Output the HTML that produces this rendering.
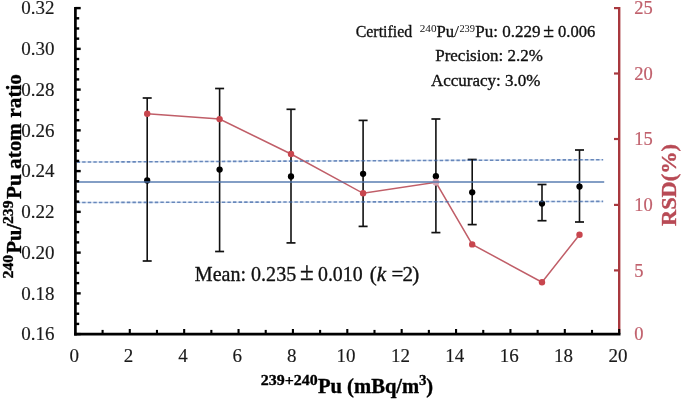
<!DOCTYPE html><html><head><meta charset="utf-8"><style>html,body{margin:0;padding:0;background:#fff;}svg{display:block}</style></head><body>
<svg width="685" height="400" viewBox="0 0 685 400" style="font-family:'Liberation Serif',serif;will-change:transform">
<rect width="685" height="400" fill="#fff"/>
<line x1="77" y1="162.1" x2="603" y2="159.7" stroke="#d6e2f3" stroke-width="1.5"/>
<line x1="77" y1="202.5" x2="603" y2="201.4" stroke="#d6e2f3" stroke-width="1.5"/>
<line x1="147.2" y1="98.0" x2="147.2" y2="261.0" stroke="#111" stroke-width="1.6"/>
<line x1="142.7" y1="98.0" x2="151.7" y2="98.0" stroke="#111" stroke-width="1.7"/>
<line x1="142.7" y1="261.0" x2="151.7" y2="261.0" stroke="#111" stroke-width="1.7"/>
<line x1="219.6" y1="88.5" x2="219.6" y2="251.5" stroke="#111" stroke-width="1.6"/>
<line x1="215.1" y1="88.5" x2="224.1" y2="88.5" stroke="#111" stroke-width="1.7"/>
<line x1="215.1" y1="251.5" x2="224.1" y2="251.5" stroke="#111" stroke-width="1.7"/>
<line x1="291.0" y1="109.3" x2="291.0" y2="242.9" stroke="#111" stroke-width="1.6"/>
<line x1="286.5" y1="109.3" x2="295.5" y2="109.3" stroke="#111" stroke-width="1.7"/>
<line x1="286.5" y1="242.9" x2="295.5" y2="242.9" stroke="#111" stroke-width="1.7"/>
<line x1="363.1" y1="120.4" x2="363.1" y2="226.4" stroke="#111" stroke-width="1.6"/>
<line x1="358.6" y1="120.4" x2="367.6" y2="120.4" stroke="#111" stroke-width="1.7"/>
<line x1="358.6" y1="226.4" x2="367.6" y2="226.4" stroke="#111" stroke-width="1.7"/>
<line x1="435.9" y1="119.0" x2="435.9" y2="232.6" stroke="#111" stroke-width="1.6"/>
<line x1="431.4" y1="119.0" x2="440.4" y2="119.0" stroke="#111" stroke-width="1.7"/>
<line x1="431.4" y1="232.6" x2="440.4" y2="232.6" stroke="#111" stroke-width="1.7"/>
<line x1="472.2" y1="159.5" x2="472.2" y2="224.6" stroke="#111" stroke-width="1.6"/>
<line x1="467.7" y1="159.5" x2="476.7" y2="159.5" stroke="#111" stroke-width="1.7"/>
<line x1="467.7" y1="224.6" x2="476.7" y2="224.6" stroke="#111" stroke-width="1.7"/>
<line x1="542.0" y1="184.5" x2="542.0" y2="220.7" stroke="#111" stroke-width="1.6"/>
<line x1="537.5" y1="184.5" x2="546.5" y2="184.5" stroke="#111" stroke-width="1.7"/>
<line x1="537.5" y1="220.7" x2="546.5" y2="220.7" stroke="#111" stroke-width="1.7"/>
<line x1="579.5" y1="150.0" x2="579.5" y2="222.0" stroke="#111" stroke-width="1.6"/>
<line x1="575.0" y1="150.0" x2="584.0" y2="150.0" stroke="#111" stroke-width="1.7"/>
<line x1="575.0" y1="222.0" x2="584.0" y2="222.0" stroke="#111" stroke-width="1.7"/>
<polyline points="147.2,113.7 219.6,119.1 291.0,154.0 363.1,193.3 435.9,182.25 472.2,244.4 542.0,282.2 579.5,234.7" fill="none" stroke="#c05e68" stroke-width="1.5"/>
<circle cx="147.2" cy="113.7" r="3.2" fill="#c8464e"/>
<circle cx="219.6" cy="119.1" r="3.2" fill="#c8464e"/>
<circle cx="291.0" cy="154.0" r="3.2" fill="#c8464e"/>
<circle cx="363.1" cy="193.3" r="3.2" fill="#c8464e"/>
<circle cx="472.2" cy="244.4" r="3.2" fill="#c8464e"/>
<circle cx="542.0" cy="282.2" r="3.2" fill="#c8464e"/>
<circle cx="579.5" cy="234.7" r="3.2" fill="#c8464e"/>
<circle cx="147.2" cy="180.4" r="3.15" fill="#000"/>
<circle cx="219.6" cy="169.55" r="3.15" fill="#000"/>
<circle cx="291.0" cy="176.5" r="3.15" fill="#000"/>
<circle cx="363.1" cy="173.8" r="3.15" fill="#000"/>
<circle cx="435.9" cy="176.20000000000002" r="3.15" fill="#000"/>
<circle cx="472.2" cy="192.3" r="3.15" fill="#000"/>
<circle cx="542.0" cy="203.60000000000002" r="3.15" fill="#000"/>
<circle cx="579.5" cy="186.55" r="3.15" fill="#000"/>
<circle cx="435.9" cy="182.25" r="3.4" fill="#d6a4b0"/>
<line x1="77" y1="181.9" x2="604.2" y2="181.9" stroke="rgb(72,112,170)" stroke-opacity="0.68" stroke-width="2"/>
<line x1="76.6" y1="162.1" x2="603.2" y2="159.7" stroke="rgb(60,100,165)" stroke-opacity="0.72" stroke-width="1.6" stroke-dasharray="3.4,2.186"/>
<line x1="76.6" y1="202.5" x2="603.2" y2="201.4" stroke="rgb(60,100,165)" stroke-opacity="0.72" stroke-width="1.6" stroke-dasharray="3.4,2.186"/>
<line x1="75.4" y1="6.8999999999999995" x2="75.4" y2="335.5" stroke="#000" stroke-width="2.7"/>
<line x1="75.4" y1="334.10" x2="80.7" y2="334.10" stroke="#000" stroke-width="2.4"/>
<line x1="75.4" y1="323.91" x2="79.2" y2="323.91" stroke="#000" stroke-width="2.4"/>
<line x1="75.4" y1="313.73" x2="79.2" y2="313.73" stroke="#000" stroke-width="2.4"/>
<line x1="75.4" y1="303.54" x2="79.2" y2="303.54" stroke="#000" stroke-width="2.4"/>
<line x1="75.4" y1="293.35" x2="80.7" y2="293.35" stroke="#000" stroke-width="2.4"/>
<line x1="75.4" y1="283.16" x2="79.2" y2="283.16" stroke="#000" stroke-width="2.4"/>
<line x1="75.4" y1="272.98" x2="79.2" y2="272.98" stroke="#000" stroke-width="2.4"/>
<line x1="75.4" y1="262.79" x2="79.2" y2="262.79" stroke="#000" stroke-width="2.4"/>
<line x1="75.4" y1="252.60" x2="80.7" y2="252.60" stroke="#000" stroke-width="2.4"/>
<line x1="75.4" y1="242.41" x2="79.2" y2="242.41" stroke="#000" stroke-width="2.4"/>
<line x1="75.4" y1="232.22" x2="79.2" y2="232.22" stroke="#000" stroke-width="2.4"/>
<line x1="75.4" y1="222.04" x2="79.2" y2="222.04" stroke="#000" stroke-width="2.4"/>
<line x1="75.4" y1="211.85" x2="80.7" y2="211.85" stroke="#000" stroke-width="2.4"/>
<line x1="75.4" y1="201.66" x2="79.2" y2="201.66" stroke="#000" stroke-width="2.4"/>
<line x1="75.4" y1="191.47" x2="79.2" y2="191.47" stroke="#000" stroke-width="2.4"/>
<line x1="75.4" y1="181.29" x2="79.2" y2="181.29" stroke="#000" stroke-width="2.4"/>
<line x1="75.4" y1="171.10" x2="80.7" y2="171.10" stroke="#000" stroke-width="2.4"/>
<line x1="75.4" y1="160.91" x2="79.2" y2="160.91" stroke="#000" stroke-width="2.4"/>
<line x1="75.4" y1="150.73" x2="79.2" y2="150.73" stroke="#000" stroke-width="2.4"/>
<line x1="75.4" y1="140.54" x2="79.2" y2="140.54" stroke="#000" stroke-width="2.4"/>
<line x1="75.4" y1="130.35" x2="80.7" y2="130.35" stroke="#000" stroke-width="2.4"/>
<line x1="75.4" y1="120.16" x2="79.2" y2="120.16" stroke="#000" stroke-width="2.4"/>
<line x1="75.4" y1="109.97" x2="79.2" y2="109.97" stroke="#000" stroke-width="2.4"/>
<line x1="75.4" y1="99.79" x2="79.2" y2="99.79" stroke="#000" stroke-width="2.4"/>
<line x1="75.4" y1="89.60" x2="80.7" y2="89.60" stroke="#000" stroke-width="2.4"/>
<line x1="75.4" y1="79.41" x2="79.2" y2="79.41" stroke="#000" stroke-width="2.4"/>
<line x1="75.4" y1="69.22" x2="79.2" y2="69.22" stroke="#000" stroke-width="2.4"/>
<line x1="75.4" y1="59.04" x2="79.2" y2="59.04" stroke="#000" stroke-width="2.4"/>
<line x1="75.4" y1="48.85" x2="80.7" y2="48.85" stroke="#000" stroke-width="2.4"/>
<line x1="75.4" y1="38.66" x2="79.2" y2="38.66" stroke="#000" stroke-width="2.4"/>
<line x1="75.4" y1="28.48" x2="79.2" y2="28.48" stroke="#000" stroke-width="2.4"/>
<line x1="75.4" y1="18.29" x2="79.2" y2="18.29" stroke="#000" stroke-width="2.4"/>
<line x1="75.4" y1="8.10" x2="80.7" y2="8.10" stroke="#000" stroke-width="2.4"/>
<line x1="619.2" y1="7.0" x2="619.2" y2="332.8" stroke="#a8383e" stroke-width="2.4"/>
<line x1="619.2" y1="270.40" x2="614.0" y2="270.40" stroke="#a8383e" stroke-width="2.2"/>
<line x1="619.2" y1="204.90" x2="614.0" y2="204.90" stroke="#a8383e" stroke-width="2.2"/>
<line x1="619.2" y1="139.00" x2="614.0" y2="139.00" stroke="#a8383e" stroke-width="2.2"/>
<line x1="619.2" y1="73.50" x2="614.0" y2="73.50" stroke="#a8383e" stroke-width="2.2"/>
<line x1="619.2" y1="8.10" x2="614.0" y2="8.10" stroke="#a8383e" stroke-width="2.2"/>
<line x1="74.05000000000001" y1="334.1" x2="620.5" y2="334.1" stroke="#000" stroke-width="2.8"/>
<line x1="102.59" y1="334.1" x2="102.59" y2="329.90000000000003" stroke="#000" stroke-width="2.1"/>
<line x1="129.78" y1="334.1" x2="129.78" y2="329.0" stroke="#000" stroke-width="2.1"/>
<line x1="156.97" y1="334.1" x2="156.97" y2="329.90000000000003" stroke="#000" stroke-width="2.1"/>
<line x1="184.16" y1="334.1" x2="184.16" y2="329.0" stroke="#000" stroke-width="2.1"/>
<line x1="211.35" y1="334.1" x2="211.35" y2="329.90000000000003" stroke="#000" stroke-width="2.1"/>
<line x1="238.54" y1="334.1" x2="238.54" y2="329.0" stroke="#000" stroke-width="2.1"/>
<line x1="265.73" y1="334.1" x2="265.73" y2="329.90000000000003" stroke="#000" stroke-width="2.1"/>
<line x1="292.92" y1="334.1" x2="292.92" y2="329.0" stroke="#000" stroke-width="2.1"/>
<line x1="320.11" y1="334.1" x2="320.11" y2="329.90000000000003" stroke="#000" stroke-width="2.1"/>
<line x1="347.30" y1="334.1" x2="347.30" y2="329.0" stroke="#000" stroke-width="2.1"/>
<line x1="374.49" y1="334.1" x2="374.49" y2="329.90000000000003" stroke="#000" stroke-width="2.1"/>
<line x1="401.68" y1="334.1" x2="401.68" y2="329.0" stroke="#000" stroke-width="2.1"/>
<line x1="428.87" y1="334.1" x2="428.87" y2="329.90000000000003" stroke="#000" stroke-width="2.1"/>
<line x1="456.06" y1="334.1" x2="456.06" y2="329.0" stroke="#000" stroke-width="2.1"/>
<line x1="483.25" y1="334.1" x2="483.25" y2="329.90000000000003" stroke="#000" stroke-width="2.1"/>
<line x1="510.44" y1="334.1" x2="510.44" y2="329.0" stroke="#000" stroke-width="2.1"/>
<line x1="537.63" y1="334.1" x2="537.63" y2="329.90000000000003" stroke="#000" stroke-width="2.1"/>
<line x1="564.82" y1="334.1" x2="564.82" y2="329.0" stroke="#000" stroke-width="2.1"/>
<line x1="592.01" y1="334.1" x2="592.01" y2="329.90000000000003" stroke="#000" stroke-width="2.1"/>
<line x1="619.20" y1="334.1" x2="619.20" y2="329.0" stroke="#000" stroke-width="2.1"/>
<text x="54.4" y="340.30" font-size="19" text-anchor="end" fill="#1a1a1a" stroke="#1a1a1a" stroke-width="0.15">0.16</text>
<text x="54.4" y="299.55" font-size="19" text-anchor="end" fill="#1a1a1a" stroke="#1a1a1a" stroke-width="0.15">0.18</text>
<text x="54.4" y="258.80" font-size="19" text-anchor="end" fill="#1a1a1a" stroke="#1a1a1a" stroke-width="0.15">0.20</text>
<text x="54.4" y="218.05" font-size="19" text-anchor="end" fill="#1a1a1a" stroke="#1a1a1a" stroke-width="0.15">0.22</text>
<text x="54.4" y="177.30" font-size="19" text-anchor="end" fill="#1a1a1a" stroke="#1a1a1a" stroke-width="0.15">0.24</text>
<text x="54.4" y="136.55" font-size="19" text-anchor="end" fill="#1a1a1a" stroke="#1a1a1a" stroke-width="0.15">0.26</text>
<text x="54.4" y="95.80" font-size="19" text-anchor="end" fill="#1a1a1a" stroke="#1a1a1a" stroke-width="0.15">0.28</text>
<text x="54.4" y="55.05" font-size="19" text-anchor="end" fill="#1a1a1a" stroke="#1a1a1a" stroke-width="0.15">0.30</text>
<text x="54.4" y="14.30" font-size="19" text-anchor="end" fill="#1a1a1a" stroke="#1a1a1a" stroke-width="0.15">0.32</text>
<text x="74.20" y="362.4" font-size="19" text-anchor="middle" fill="#1a1a1a" stroke="#1a1a1a" stroke-width="0.15">0</text>
<text x="128.58" y="362.4" font-size="19" text-anchor="middle" fill="#1a1a1a" stroke="#1a1a1a" stroke-width="0.15">2</text>
<text x="182.96" y="362.4" font-size="19" text-anchor="middle" fill="#1a1a1a" stroke="#1a1a1a" stroke-width="0.15">4</text>
<text x="237.34" y="362.4" font-size="19" text-anchor="middle" fill="#1a1a1a" stroke="#1a1a1a" stroke-width="0.15">6</text>
<text x="291.72" y="362.4" font-size="19" text-anchor="middle" fill="#1a1a1a" stroke="#1a1a1a" stroke-width="0.15">8</text>
<text x="346.10" y="362.4" font-size="19" text-anchor="middle" fill="#1a1a1a" stroke="#1a1a1a" stroke-width="0.15">10</text>
<text x="400.48" y="362.4" font-size="19" text-anchor="middle" fill="#1a1a1a" stroke="#1a1a1a" stroke-width="0.15">12</text>
<text x="454.86" y="362.4" font-size="19" text-anchor="middle" fill="#1a1a1a" stroke="#1a1a1a" stroke-width="0.15">14</text>
<text x="509.24" y="362.4" font-size="19" text-anchor="middle" fill="#1a1a1a" stroke="#1a1a1a" stroke-width="0.15">16</text>
<text x="563.62" y="362.4" font-size="19" text-anchor="middle" fill="#1a1a1a" stroke="#1a1a1a" stroke-width="0.15">18</text>
<text x="618.00" y="362.4" font-size="19" text-anchor="middle" fill="#1a1a1a" stroke="#1a1a1a" stroke-width="0.15">20</text>
<text x="634.2" y="340.20" font-size="18.5" fill="#c0606c" stroke="#c0606c" stroke-width="0.2">0</text>
<text x="634.2" y="276.50" font-size="18.5" fill="#c0606c" stroke="#c0606c" stroke-width="0.2">5</text>
<text x="634.2" y="211.00" font-size="18.5" fill="#c0606c" stroke="#c0606c" stroke-width="0.2">10</text>
<text x="634.2" y="145.10" font-size="18.5" fill="#c0606c" stroke="#c0606c" stroke-width="0.2">15</text>
<text x="634.2" y="79.60" font-size="18.5" fill="#c0606c" stroke="#c0606c" stroke-width="0.2">20</text>
<text x="634.2" y="14.20" font-size="18.5" fill="#c0606c" stroke="#c0606c" stroke-width="0.2">25</text>
<text x="260.7" y="385.3" font-size="15" fill="#000" stroke="#000" stroke-width="0.35" font-weight="bold" textLength="57" lengthAdjust="spacingAndGlyphs">239+240</text>
<text x="317.9" y="392.6" font-size="20.5" fill="#000" stroke="#000" stroke-width="0.35" font-weight="bold" textLength="101.4" lengthAdjust="spacingAndGlyphs">Pu (mBq/m</text>
<text x="418.9" y="385.3" font-size="15" fill="#000" stroke="#000" stroke-width="0.35" font-weight="bold">3</text>
<text x="426.3" y="392.6" font-size="20.5" fill="#000" stroke="#000" stroke-width="0.35" font-weight="bold">)</text>
<text transform="translate(13.3,278.4) rotate(-90)" x="0" y="0" font-size="15" fill="#000" stroke="#000" stroke-width="0.35" font-weight="bold" textLength="23.6" lengthAdjust="spacingAndGlyphs">240</text>
<text transform="translate(20.6,253.5) rotate(-90)" x="0" y="0" font-size="20.5" fill="#000" stroke="#000" stroke-width="0.35" font-weight="bold">Pu/</text>
<text transform="translate(13.3,224.1) rotate(-90)" x="0" y="0" font-size="15" fill="#000" stroke="#000" stroke-width="0.35" font-weight="bold" textLength="23.6" lengthAdjust="spacingAndGlyphs">239</text>
<text transform="translate(20.6,199.1) rotate(-90)" x="0" y="0" font-size="20.5" fill="#000" stroke="#000" stroke-width="0.35" font-weight="bold" textLength="125.1" lengthAdjust="spacingAndGlyphs">Pu atom ratio</text>
<text transform="translate(676.4,225.9) rotate(-90)" x="0" y="0" font-size="21.5" fill="#b84a55" stroke="#b84a55" stroke-width="0.35" font-weight="bold" textLength="81.8" lengthAdjust="spacingAndGlyphs">RSD(%)</text>
<text x="355.7" y="36.6" font-size="17.5" fill="#111" stroke="#111" stroke-width="0.35" textLength="56.5" lengthAdjust="spacingAndGlyphs">Certified</text>
<text x="419.7" y="31.5" font-size="10.8" fill="#111" textLength="16.8" lengthAdjust="spacingAndGlyphs">240</text>
<text x="436.6" y="36.6" font-size="17.5" fill="#111" stroke="#111" stroke-width="0.35" textLength="17.6" lengthAdjust="spacingAndGlyphs">Pu</text>
<text x="453.9" y="36.6" font-size="17.5" fill="#111" stroke="#111" stroke-width="0.1" textLength="5" lengthAdjust="spacingAndGlyphs">/</text>
<text x="459.4" y="31.5" font-size="10.8" fill="#111" textLength="15.6" lengthAdjust="spacingAndGlyphs">239</text>
<text x="475.3" y="36.6" font-size="17.5" fill="#111" stroke="#111" stroke-width="0.35" textLength="65.3" lengthAdjust="spacingAndGlyphs">Pu: 0.229</text>
<text x="543.2" y="36.6" font-size="19.5" fill="#111" stroke="#111" stroke-width="0.35">±</text>
<text x="558.0" y="36.6" font-size="17.5" fill="#111" stroke="#111" stroke-width="0.35" textLength="37.3" lengthAdjust="spacingAndGlyphs">0.006</text>
<text x="435.2" y="61.3" font-size="17" fill="#111" stroke="#111" stroke-width="0.35">Precision: 2.2%</text>
<text x="431.0" y="86.2" font-size="17" fill="#111" stroke="#111" stroke-width="0.35">Accuracy: 3.0%</text>
<text x="194.8" y="281.4" font-size="21" fill="#111" stroke="#111" stroke-width="0.35" textLength="101.4" lengthAdjust="spacingAndGlyphs">Mean: 0.235</text>
<text x="300.0" y="280.4" font-size="25" fill="#111" stroke="#111" stroke-width="0.35">±</text>
<text x="318.0" y="281.4" font-size="21" fill="#111" stroke="#111" stroke-width="0.35" textLength="44.6" lengthAdjust="spacingAndGlyphs">0.010</text>
<text x="369.8" y="281.4" font-size="21" fill="#111" stroke="#111" stroke-width="0.35">(</text>
<text x="376.8" y="281.4" font-size="21" fill="#111" stroke="#111" stroke-width="0.35" font-style="italic">k</text>
<text x="391.6" y="281.4" font-size="21" fill="#111" stroke="#111" stroke-width="0.35">=</text>
<text x="402.6" y="281.4" font-size="21" fill="#111" stroke="#111" stroke-width="0.35">2</text>
<text x="412.2" y="281.4" font-size="21" fill="#111" stroke="#111" stroke-width="0.35">)</text>
</svg></body></html>
